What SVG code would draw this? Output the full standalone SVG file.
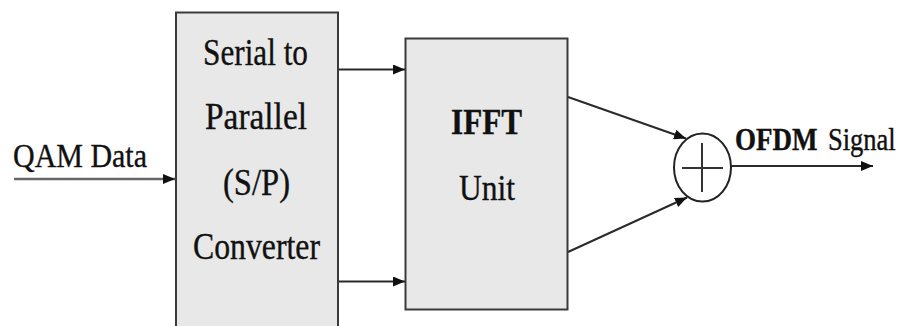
<svg xmlns="http://www.w3.org/2000/svg" width="901" height="326" viewBox="0 0 901 326">
  <style>
    .block { fill: #e8e8e8; stroke: #3a3a3a; stroke-width: 2; }
    .wire { fill: none; stroke: #2a2a2a; stroke-width: 2; }
    .feed { stroke: #666; stroke-width: 2.5; }
    .label { font-family: "Liberation Serif", "Times New Roman", serif; fill: #111; stroke: #111; stroke-width: 0.35; }
    .bold { font-weight: bold; }
  </style>
  <defs>
    <marker id="arrow" markerUnits="userSpaceOnUse" markerWidth="12" markerHeight="10" refX="12" refY="5" orient="auto">
      <path d="M0,0 L12,5 L0,10 z" fill="#111"/>
    </marker>
  </defs>

  <!-- input label -->
  <text class="label" x="13" y="166.5" font-size="33" textLength="134" lengthAdjust="spacingAndGlyphs">QAM Data</text>

  <!-- serial to parallel block -->
  <g id="sp-converter">
    <rect class="block" x="176" y="12.5" width="162" height="330"/>
    <text class="label" x="203" y="65" font-size="38" textLength="105" lengthAdjust="spacingAndGlyphs">Serial to</text>
    <text class="label" x="205" y="128.5" font-size="38" textLength="102" lengthAdjust="spacingAndGlyphs">Parallel</text>
    <text class="label" x="223" y="195" font-size="38" textLength="67" lengthAdjust="spacingAndGlyphs">(S/P)</text>
    <text class="label" x="193" y="258.5" font-size="38" textLength="127" lengthAdjust="spacingAndGlyphs">Converter</text>
  </g>

  <!-- IFFT block -->
  <g id="ifft-unit">
    <rect class="block" x="405.5" y="38.5" width="162" height="271"/>
    <text class="label bold" x="451" y="133.5" font-size="36" textLength="71" lengthAdjust="spacingAndGlyphs">IFFT</text>
    <text class="label" x="459" y="200" font-size="36" textLength="56" lengthAdjust="spacingAndGlyphs">Unit</text>
  </g>

  <!-- summing junction -->
  <g id="adder">
    <ellipse cx="702.5" cy="167.5" rx="28.5" ry="34" fill="#fff" stroke="#222" stroke-width="2"/>
    <line x1="682" y1="168" x2="723" y2="168" stroke="#333" stroke-width="2"/>
    <line x1="702" y1="143" x2="702" y2="192" stroke="#333" stroke-width="2"/>
  </g>

  <!-- output label, drawn narrow and tall -->
  <g id="output-label">
    <text class="label bold" transform="translate(735,150) scale(1,1.2)" font-size="27">OFDM</text>
    <text class="label" transform="translate(828,150) scale(1,1.2)" font-size="26.5">Signal</text>
  </g>

  <!-- connectors -->
  <g id="connectors">
    <line class="wire feed" x1="14" y1="179" x2="175" y2="179" marker-end="url(#arrow)"/>
    <line class="wire" x1="339" y1="69.5" x2="405" y2="69.5" marker-end="url(#arrow)"/>
    <line class="wire" x1="339" y1="281.5" x2="405" y2="281.5" marker-end="url(#arrow)"/>
    <line class="wire" x1="568" y1="97" x2="686" y2="138.5" marker-end="url(#arrow)"/>
    <line class="wire" x1="568" y1="252" x2="687" y2="197.5" marker-end="url(#arrow)"/>
    <line class="wire" x1="731" y1="166" x2="873" y2="166" marker-end="url(#arrow)"/>
  </g>
</svg>
